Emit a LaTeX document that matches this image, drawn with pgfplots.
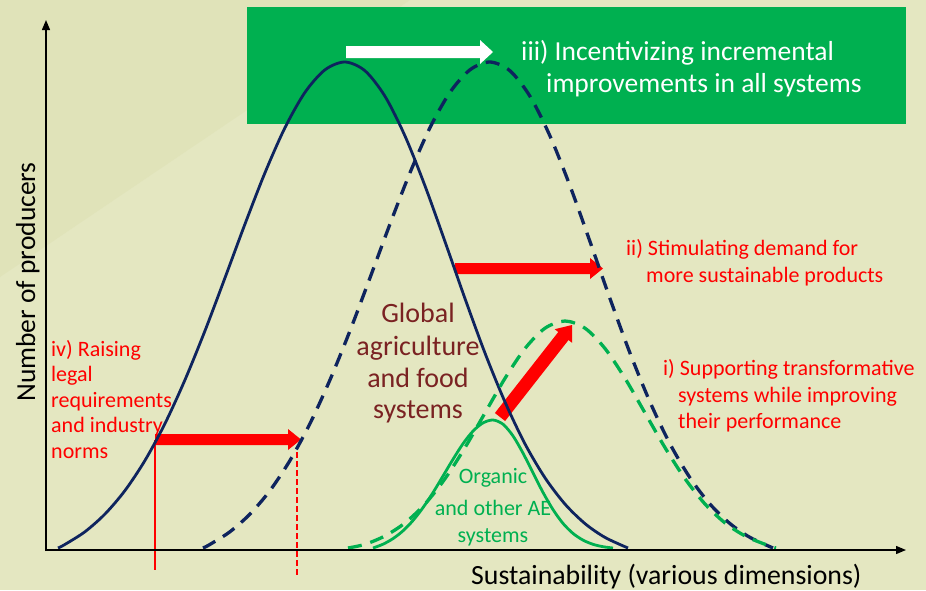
\documentclass[border=0pt]{standalone}
\usepackage{pgfplots}
\pgfplotsset{compat=1.18}
\usepackage{fontspec}
\setmainfont{Carlito}
\usetikzlibrary{arrows.meta}
\definecolor{bgA}{RGB}{228,231,193}
\definecolor{bgB}{RGB}{224,227,185}
\definecolor{boxgreen}{RGB}{0,176,80}
\definecolor{navy}{RGB}{14,36,94}
\definecolor{brown}{RGB}{122,34,34}
\begin{document}
\begin{tikzpicture}
\begin{axis}[scale only axis, width=926pt, height=590pt,
  xmin=0, xmax=926, ymin=0, ymax=590, y dir=reverse,
  hide axis, clip=false]
% background
\fill[bgA] (axis cs:0,0) rectangle (axis cs:926,590);
\fill[bgB] (axis cs:0,0) -- (axis cs:410,0) -- (axis cs:0,277) -- cycle;
% green box
\fill[boxgreen] (axis cs:247,7) rectangle (axis cs:906,124);
% red arrows (below curves)
\fill[red] (axis cs:155,434) -- (axis cs:288,434) -- (axis cs:288,429) -- (axis cs:301,439.5) -- (axis cs:288,450) -- (axis cs:288,445) -- (axis cs:155,445) -- cycle;
\fill[red] (axis cs:455,263) -- (axis cs:590,263) -- (axis cs:590,258) -- (axis cs:603,268.5) -- (axis cs:590,279) -- (axis cs:590,274) -- (axis cs:455,274) -- cycle;
\fill[red] (axis cs:505.1,421.0) -- (axis cs:568.5,340.0) -- (axis cs:572.1,342.8) -- (axis cs:572,325) -- (axis cs:554.7,329.2) -- (axis cs:558.3,332.0) -- (axis cs:494.9,413.0) -- cycle;
\draw[red, line width=1.6pt] (axis cs:155,440) -- (axis cs:155,570);
\draw[red, line width=2pt, dash pattern=on 6pt off 3pt] (axis cs:297,452) -- (axis cs:297,576);
% curves
\addplot[navy, line width=2.8pt, smooth] coordinates {
(58,548) (65,544.4) (85,531.7) (105,514.0) (125,490.5) (145,460.4) (165,423.5) (185,379.8) (205,330.7) (225,277.8) (245,224.0) (265,172.7) (285,127.6) (305,92.3) (325,69.8) (345,62)
(365,70.8) (385,96.3) (405,136.0) (425,185.9) (445,241.6) (465,298.6) (485,353.1) (505,402.0) (525,443.9) (545,477.8) (565,504.1) (585,523.6) (605,537.4) (628,548)};
\addplot[navy, line width=3.3pt, smooth, dash pattern=on 14pt off 9pt] coordinates {
(203,548) (210,544.4) (230,531.7) (250,514.0) (270,490.5) (290,460.4) (310,423.5) (330,379.8) (350,330.7) (370,277.8) (390,224.0) (410,172.7) (430,127.6) (450,92.3) (470,69.8) (490,62)
(510,70.8) (530,96.3) (550,136.0) (570,185.9) (590,241.6) (610,298.6) (630,353.1) (650,402.0) (670,443.9) (690,477.8) (710,504.1) (730,523.6) (750,537.4) (773,548)};
\addplot[boxgreen, line width=3.3pt, smooth, dash pattern=on 14pt off 9pt] coordinates {
(348,548) (365,544.3) (385,535.9) (405,522.9) (425,504.0) (445,478.7) (465,447.6) (485,412.9) (505,378.3) (525,348.5) (545,328.2) (565,321)
(585,328.2) (605,348.5) (625,378.3) (645,412.9) (665,447.6) (685,478.7) (705,504.0) (725,522.9) (745,535.9) (765,544.3) (776,548)};
\addplot[boxgreen, line width=2.8pt, smooth] coordinates {
(373,548) (383,544.2) (393,538.6) (403,530.8) (413,520.5) (423,507.6) (433,492.6) (443,476.0) (453,459.3) (463,443.7) (473,431.1) (483,422.9) (493,420)
(503,424.2) (513,435.9) (523,453.1) (533,472.8) (543,492.4) (553,509.6) (563,523.4) (573,533.4) (583,540.1) (593,544.3) (603,546.7) (613,548)};
% white arrow
\fill[white] (axis cs:346,46) -- (axis cs:480,46) -- (axis cs:480,40) -- (axis cs:493,52) -- (axis cs:480,64) -- (axis cs:480,58) -- (axis cs:346,58) -- cycle;
% axes
\draw[black, line width=1.3pt, -{Triangle[length=10pt,width=8pt]}] (axis cs:46,551) -- (axis cs:46,20);
\draw[black, line width=1.3pt, -{Triangle[length=10pt,width=8pt]}] (axis cs:45.35,550) -- (axis cs:906,550);
% texts
\begin{scope}[every node/.style={inner sep=0pt}]
\node[anchor=base west, text=white, font=\fontsize{27.5}{33}\selectfont] at (axis cs:521,60) {iii) Incentivizing incremental};
\node[anchor=base west, text=white, font=\fontsize{27.5}{33}\selectfont] at (axis cs:546,92) {improvements in all systems};
\node[anchor=base west, text=red, font=\fontsize{22}{26}\selectfont] at (axis cs:626,255) {ii) Stimulating demand for};
\node[anchor=base west, text=red, font=\fontsize{22}{26}\selectfont] at (axis cs:646,282) {more sustainable products};
\node[anchor=base west, text=red, font=\fontsize{22}{26}\selectfont] at (axis cs:663,375) {i) Supporting transformative};
\node[anchor=base west, text=red, font=\fontsize{22}{26}\selectfont] at (axis cs:678,402) {systems while improving};
\node[anchor=base west, text=red, font=\fontsize{22}{26}\selectfont] at (axis cs:678,428) {their performance};
\node[anchor=base west, text=red, font=\fontsize{22}{26}\selectfont] at (axis cs:51,356) {iv) Raising};
\node[anchor=base west, text=red, font=\fontsize{22}{26}\selectfont] at (axis cs:51,381) {legal};
\node[anchor=base west, text=red, font=\fontsize{22}{26}\selectfont] at (axis cs:51,407) {requirements};
\node[anchor=base west, text=red, font=\fontsize{22}{26}\selectfont] at (axis cs:51,432) {and industry};
\node[anchor=base west, text=red, font=\fontsize{22}{26}\selectfont] at (axis cs:51,458) {norms};
\node[anchor=base, text=brown, font=\fontsize{28}{33}\selectfont] at (axis cs:418,322) {Global};
\node[anchor=base, text=brown, font=\fontsize{28}{33}\selectfont] at (axis cs:418,355) {agriculture};
\node[anchor=base, text=brown, font=\fontsize{28}{33}\selectfont] at (axis cs:418,387) {and food};
\node[anchor=base, text=brown, font=\fontsize{28}{33}\selectfont] at (axis cs:418,418) {systems};
\node[anchor=base, text=boxgreen, font=\fontsize{22}{26}\selectfont] at (axis cs:493,483) {Organic};
\node[anchor=base, text=boxgreen, font=\fontsize{22}{26}\selectfont] at (axis cs:493,515) {and other AE};
\node[anchor=base, text=boxgreen, font=\fontsize{22}{26}\selectfont] at (axis cs:493,542) {systems};
\node[anchor=base west, text=black, font=\fontsize{27.8}{33}\selectfont] at (axis cs:471,584) {Sustainability (various dimensions)};
\node[anchor=base, rotate=90, text=black, font=\fontsize{27.5}{33}\selectfont] at (axis cs:35,282) {Number of producers};
\end{scope}
\end{axis}
\end{tikzpicture}
\end{document}
